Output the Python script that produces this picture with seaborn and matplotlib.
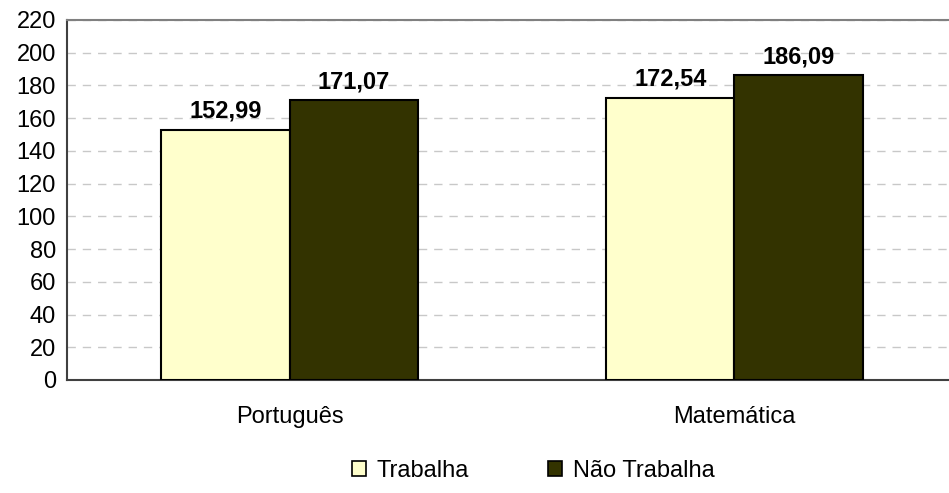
import numpy as np
import pandas as pd
import seaborn as sns
import matplotlib.pyplot as plt
from matplotlib.patches import Patch

disciplinas = ['Português', 'Matemática']
grupos = ['Trabalha', 'Não Trabalha']
trabalha = [152.99, 172.54]
nao_trabalha = [171.07, 186.09]
cores = ['#FFFFCC', '#333300']

df = pd.DataFrame({
    'disciplina': disciplinas * 2,
    'grupo': [grupos[0]] * 2 + [grupos[1]] * 2,
    'valor': trabalha + nao_trabalha,
})

sns.set_style('white')
plt.rcParams['font.family'] = ['Liberation Sans', 'DejaVu Sans']
plt.rcParams['text.color'] = 'black'
plt.rcParams['xtick.color'] = 'black'
plt.rcParams['ytick.color'] = 'black'

fig = plt.figure(figsize=(9.49, 4.93), dpi=100)
ax = fig.add_axes([67 / 949, 1 - 380 / 493, 890 / 949, 360 / 493])

sns.barplot(data=df, x='disciplina', y='valor', hue='grupo', palette=cores, saturation=1,
            width=0.576, gap=0, edgecolor='black', linewidth=1.5,
            legend=False, ax=ax, zorder=3)

# rótulos de valor
for cont in ax.containers:
    for bar in cont:
        h = bar.get_height()
        ax.annotate(f'{h:.2f}'.replace('.', ','), (bar.get_x() + bar.get_width() / 2, h),
                    xytext=(0, 5), textcoords='offset points', ha='center', va='bottom',
                    fontsize=17, fontweight='bold', zorder=4)

ax.set_xlim(-0.5, 1.5)
ax.set_ylim(0, 220)
ax.set_yticks(np.arange(0, 221, 20))
ax.set_xticks([0, 1])
ax.set_xticks([-0.5, 0.5, 1.5], minor=True)
ax.tick_params(axis='x', which='major', length=0, pad=19, labelsize=17)
ax.tick_params(axis='x', which='minor', length=6, width=1.2, color='#333333', direction='out')
ax.tick_params(axis='y', length=6, width=1.2, color='#333333', direction='out', labelsize=17, pad=2)
ax.set_xlabel('')
ax.set_ylabel('')

ax.yaxis.grid(True, color='#c8c8c8', linestyle=(0, (6, 5)), linewidth=1, zorder=0)
ax.set_axisbelow(True)
for s in ['left', 'bottom']:
    ax.spines[s].set_color('#404040')
    ax.spines[s].set_linewidth(1.5)
ax.spines['top'].set_color('#808080')
ax.spines['top'].set_linewidth(1.5)
ax.spines['right'].set_visible(False)

handles = [Patch(facecolor=c, edgecolor='black', linewidth=1.2, label=g) for c, g in zip(cores, grupos)]
fig.legend(handles=handles, loc='center', bbox_to_anchor=(0.562, 0.045), ncol=2, frameon=False,
           fontsize=17, handlelength=0.6, handleheight=0.6, handletextpad=0.45, columnspacing=3.35)

fig.savefig('out.png', dpi=100)
